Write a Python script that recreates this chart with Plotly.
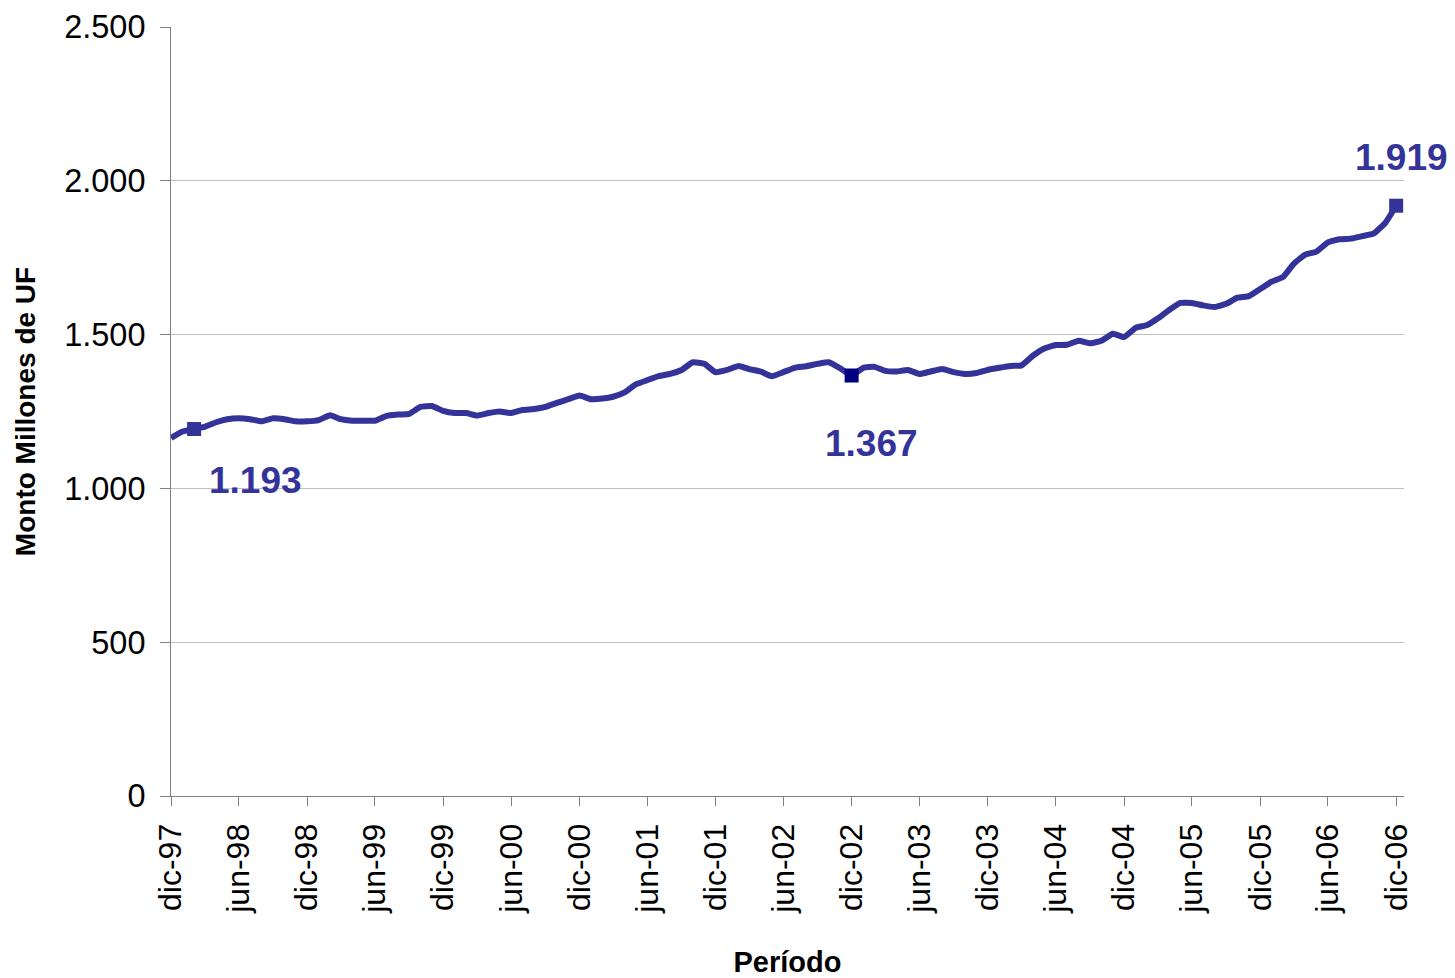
import pandas as pd
import plotly.graph_objects as go

# ---- data ----
start_month = "1997-12-01"
values = [
    1164, 1185, 1193, 1200, 1215, 1225, 1228, 1225, 1218, 1228,
    1225, 1218, 1218, 1222, 1238, 1225, 1220, 1220, 1220, 1235,
    1240, 1242, 1265, 1268, 1252, 1245, 1245, 1237, 1245, 1250,
    1245, 1255, 1258, 1265, 1278, 1290, 1302, 1290, 1292, 1298,
    1312, 1338, 1352, 1365, 1372, 1385, 1410, 1405, 1378, 1385,
    1398, 1388, 1380, 1365, 1378, 1392, 1397, 1405, 1410, 1390,
    1367, 1392, 1395, 1382, 1380, 1385, 1372, 1380, 1388, 1378,
    1372, 1375, 1385, 1392, 1398, 1400, 1432, 1455, 1466, 1467,
    1480, 1472, 1480, 1503, 1492, 1522, 1531, 1552, 1580, 1603,
    1603, 1595, 1590, 1600, 1620, 1625, 1648, 1672, 1688, 1730,
    1760, 1770, 1800, 1810, 1812, 1820, 1828, 1862, 1919,
]
dates = pd.date_range(start_month, periods=len(values), freq="MS")

highlight_idx = [2, 60, 108]
highlight_colors = ["#333399", "#000080", "#333399"]

tick_dates = pd.date_range("1997-12-01", "2006-12-01", freq="6MS")
tick_text = ["dic-97", "jun-98", "dic-98", "jun-99", "dic-99", "jun-00", "dic-00",
             "jun-01", "dic-01", "jun-02", "dic-02", "jun-03", "dic-03", "jun-04",
             "dic-04", "jun-05", "dic-05", "jun-06", "dic-06"]
y_ticks = [0, 500, 1000, 1500, 2000, 2500]

label_shifts = [(61, -51), (20, -68), (5, 48)]

FONT = "Liberation Sans, Arial, sans-serif"
LINE = "#333399"

fig = go.Figure()
fig.add_trace(go.Scatter(
    x=dates, y=values, mode="lines",
    line=dict(color=LINE, width=6, shape="spline", smoothing=0.4),
    hoverinfo="skip", showlegend=False,
))
fig.add_trace(go.Scatter(
    x=[dates[i] for i in highlight_idx],
    y=[values[i] for i in highlight_idx],
    mode="markers",
    marker=dict(symbol="square", size=14, color=highlight_colors, line=dict(width=0)),
    hoverinfo="skip", showlegend=False,
))

for i, (dx, dy) in zip(highlight_idx, label_shifts):
    fig.add_annotation(
        x=dates[i], y=values[i], text=f"{values[i]:,}".replace(",", "."),
        showarrow=False, xshift=dx, yshift=dy,
        font=dict(family=FONT, size=37, color=LINE, weight="bold"),
    )

fig.update_layout(
    width=1447, height=970,
    margin=dict(l=163, r=51, t=19, b=182, autoexpand=False),
    paper_bgcolor="white", plot_bgcolor="white",
    separators=",.",
    font=dict(family=FONT, color="black"),
)
fig.update_xaxes(
    type="date", automargin=False,
    range=["1997-12-01", "2006-12-22"],
    tickmode="array", tickvals=tick_dates, ticktext=tick_text,
    tickangle=-90, tickfont=dict(size=32, family=FONT),
    ticks="outside", ticklen=9, tickcolor="#808080", tickwidth=1,
    ticklabelstandoff=5,
    showline=True, linecolor="#808080", linewidth=1,
    showgrid=False, zeroline=False,
    title=dict(text="<b>Período</b>", font=dict(size=29, family=FONT), standoff=38),
)
fig.update_yaxes(
    automargin=False,
    range=[0, 2500],
    tickmode="array", tickvals=y_ticks, tickformat=",d",
    tickfont=dict(size=32.5, family=FONT),
    ticks="outside", ticklen=10, tickcolor="#808080", tickwidth=1,
    ticklabelstandoff=8,
    showline=True, linecolor="#808080", linewidth=1,
    showgrid=True, gridcolor="#c0c0c0", gridwidth=1,
    zeroline=False,
    title=dict(text="<b>Monto Millones de UF</b>", font=dict(size=28, family=FONT), standoff=20),
)

fig.write_html("out.html")
